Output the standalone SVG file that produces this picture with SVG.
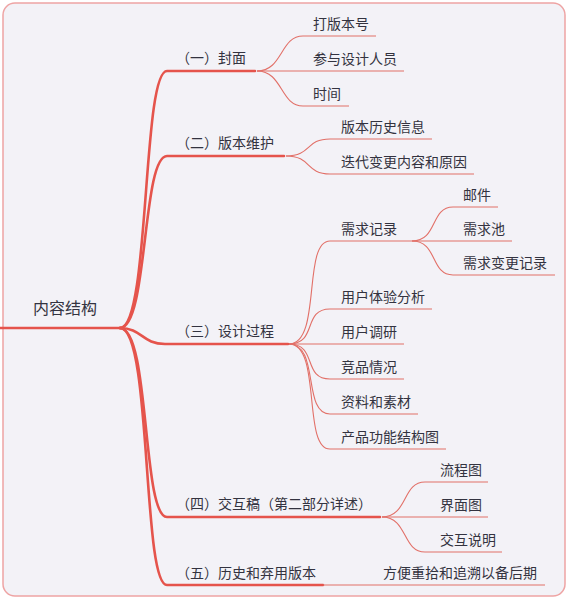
<svg xmlns="http://www.w3.org/2000/svg" width="568" height="600" viewBox="0 0 568 600">
<style>
text{font-family:"Noto Sans CJK SC","Noto Sans",sans-serif;fill:#333340;font-size:14px}
.root{font-size:16px}
.main{fill:none;stroke:#e5544c;stroke-width:2.6;stroke-linecap:round}
.sub{fill:none;stroke:#e27068;stroke-width:1.1}
</style>
<rect x="0" y="0" width="568" height="600" fill="#ffffff"/>
<rect x="3" y="3" width="562" height="593" rx="12" fill="#f3f2f7" stroke="#eea4a4" stroke-width="1.5"/>
<g id="connectors">
<path class="main" d="M0,328 H120"/>
<path class="main" d="M120,328 C150,328 142,71 167,71 H255"/>
<path class="main" d="M120,328 C148,328 142,156 167,156 H284"/>
<path class="main" d="M120,328 C142,328 142,344 165,344 H288"/>
<path class="main" d="M120,328 C150,328 142,517 167,517 H380"/>
<path class="main" d="M120,328 C152,328 142,585 167,585 H323"/>
<path class="sub" d="M257,71 C283,71 280,36 303,36 H376"/>
<path class="sub" d="M257,71 H404"/>
<path class="sub" d="M257,71 C283,71 280,106 303,106 H349"/>
<path class="sub" d="M286,156 C312,156 305,139 330,139 H432"/>
<path class="sub" d="M286,156 C312,156 305,174 330,174 H474"/>
<path class="sub" d="M289,344 C322,344 302,241 330,241 H412"/>
<path class="sub" d="M289,344 C318,344 302,309 330,309 H432"/>
<path class="sub" d="M289,344 H404"/>
<path class="sub" d="M289,344 C318,344 302,379 330,379 H404"/>
<path class="sub" d="M289,344 C320,344 302,414 330,414 H418"/>
<path class="sub" d="M289,344 C322,344 302,449 330,449 H446"/>
<path class="sub" d="M412,241 C438,241 430,207 453,207 H498"/>
<path class="sub" d="M412,241 H512"/>
<path class="sub" d="M412,241 C438,241 430,275 453,275 H555"/>
<path class="sub" d="M382,517 C408,517 402,482 425,482 H488"/>
<path class="sub" d="M382,517 H488"/>
<path class="sub" d="M382,517 C408,517 402,552 425,552 H502"/>
<path class="sub" d="M323,585 H545"/>
</g>
<g id="root"><text class="root" x="33" y="314">内容结构</text></g>
<g id="b1"><text x="176" y="63">（一）封面</text></g>
<g id="b1c1"><text x="313" y="29">打版本号</text></g>
<g id="b1c2"><text x="313" y="64">参与设计人员</text></g>
<g id="b1c3"><text x="313" y="99">时间</text></g>
<g id="b2"><text x="176" y="148">（二）版本维护</text></g>
<g id="b2c1"><text x="341" y="132">版本历史信息</text></g>
<g id="b2c2"><text x="341" y="167">迭代变更内容和原因</text></g>
<g id="b3"><text x="176" y="336">（三）设计过程</text></g>
<g id="b3c1"><text x="341" y="234">需求记录</text></g>
<g id="b3c1a"><text x="463" y="200">邮件</text></g>
<g id="b3c1b"><text x="463" y="234">需求池</text></g>
<g id="b3c1c"><text x="463" y="268">需求变更记录</text></g>
<g id="b3c2"><text x="341" y="302">用户体验分析</text></g>
<g id="b3c3"><text x="341" y="337">用户调研</text></g>
<g id="b3c4"><text x="341" y="372">竞品情况</text></g>
<g id="b3c5"><text x="341" y="407">资料和素材</text></g>
<g id="b3c6"><text x="341" y="442">产品功能结构图</text></g>
<g id="b4"><text x="176" y="509">（四）交互稿（第二部分详述）</text></g>
<g id="b4c1"><text x="440" y="475">流程图</text></g>
<g id="b4c2"><text x="440" y="510">界面图</text></g>
<g id="b4c3"><text x="440" y="545">交互说明</text></g>
<g id="b5"><text x="176" y="578">（五）历史和弃用版本</text></g>
<g id="b5c1"><text x="383" y="578">方便重拾和追溯以备后期</text></g>
</svg>
